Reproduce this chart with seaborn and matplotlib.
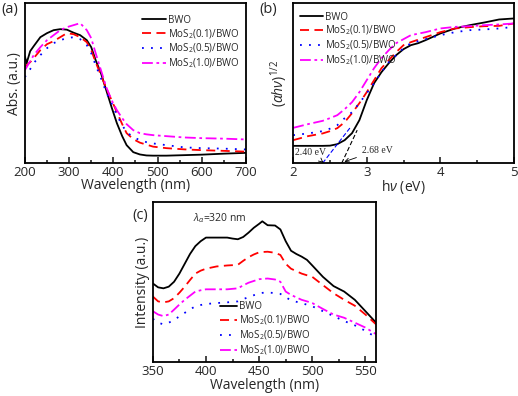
import matplotlib
matplotlib.use('Agg')
import matplotlib.pyplot as plt
from matplotlib.ticker import MultipleLocator
import seaborn as sns
import pandas as pd

# sample names and styles
SAMPLES = ['BWO', 'MoS2(0.1)/BWO', 'MoS2(0.5)/BWO', 'MoS2(1.0)/BWO']
LABELS = ['BWO', r'MoS$_2$(0.1)/BWO', r'MoS$_2$(0.5)/BWO', r'MoS$_2$(1.0)/BWO']
COLORS = ['black', '#ff0000', '#0000ff', '#ff00ff']
DASHES = ['', (5, 3), (1, 4), (6, 2, 1.5, 2)]

# (a) UV-vis absorbance
wl_a = [200, 204, 212, 220, 235, 250, 265, 280, 295, 310, 325, 340, 350, 360,
        372, 384, 396, 408, 420, 430, 445, 460, 475, 490, 520, 560, 600, 650, 700]
abs_bwo = [107, 100, 112, 117, 126, 130, 133, 134, 133.5, 130.5, 128, 123, 116,
           103, 90, 73, 56, 40, 27, 18, 11, 8.7, 7.7, 7.5, 7.5, 8, 8.5, 9.5, 10.3]
abs_01 = [96, 98, 101, 105, 113, 119, 122, 126, 130, 129, 126, 121, 113, 101,
          88, 75, 63, 51, 39, 30, 24, 20.5, 18.5, 16.5, 15, 13.8, 13, 12.3, 11.5]
abs_05 = [86, 89, 94, 100, 108, 115, 120, 123, 125, 126, 124, 118, 110, 98, 85,
          71, 60, 48, 38, 31, 26, 23, 21, 19.7, 18, 15.8, 15, 14.5, 13.7]
abs_10 = [93, 96, 102, 108, 116, 123, 128, 133, 136, 138, 140, 133, 125, 110,
          93, 76, 63, 53, 45, 39, 33, 30, 28.8, 28, 27, 25.7, 25, 24.5, 23.7]

# (b) Tauc plot
ev_b = [2.0, 2.2, 2.4, 2.5, 2.6, 2.7, 2.8, 2.9, 3.0, 3.1, 3.2, 3.3, 3.4, 3.5,
        3.6, 3.7, 3.8, 4.0, 4.2, 4.4, 4.6, 4.8, 5.0]
tauc_bwo = [17.3, 17.3, 17.3, 17.5, 19, 23, 30, 43, 63, 80, 91, 100, 108, 114,
            118, 120, 123, 129.7, 134.7, 138, 140.7, 143.7, 144.7]
tauc_01 = [23, 27, 29.7, 32, 35, 41, 50, 60, 71, 83, 95, 103, 111, 118, 121,
           123.5, 126, 131, 134.7, 136, 137, 137.3, 139.7]
tauc_05 = [28, 29.7, 32, 34.5, 38, 45, 51, 60, 70, 80, 91, 101, 108, 115, 120,
           122, 124, 128, 131, 133, 133.7, 134.7, 136.3]
tauc_10 = [35.3, 39, 42.3, 45, 48, 54, 61, 71, 83, 95, 105, 113, 120, 124, 128,
           129.5, 131, 134.7, 136.3, 137, 138, 138.7, 139.7]
# tangent lines for the band gap extrapolation
tan_bwo_x = [2.66, 2.87]
tan_bwo_y = [0, 33]
tan_05_x = [2.40, 2.78]
tan_05_y = [0, 36]

# (c) PL spectra
wl_c = [350, 355, 360, 365, 370, 375, 380, 385, 390, 395, 400, 410, 420, 425,
        430, 435, 440, 445, 450, 453, 458, 465, 470, 475, 480, 485, 490, 495,
        500, 510, 520, 530, 540, 550, 560]
pl_bwo = [80, 76, 75, 76.7, 81.7, 90, 100, 110, 118, 123, 126.7, 126.7, 126.7,
          125.7, 125, 127.3, 131.7, 136.7, 140.7, 143.3, 139.3, 139, 135, 123,
          113.3, 110, 107.3, 104, 98.3, 86.7, 77.3, 71.7, 63.3, 51.7, 40]
pl_01 = [66.7, 61.7, 60.7, 61.7, 65, 70.5, 76.7, 83.5, 90, 93, 95, 97.3, 98.3,
         98.6, 99, 103, 106.7, 109.5, 111.7, 112, 112.3, 111.2, 109, 100, 95,
         92.5, 90, 88.3, 86.7, 78.3, 70, 63.3, 57.3, 48.3, 38.3]
pl_05 = [44, 40, 38.3, 40, 42.7, 46.5, 50, 53.5, 56.7, 58, 59, 60, 60.7, 61.2,
         61.7, 64, 66, 68, 70, 70.4, 70.7, 70.2, 69.3, 66, 62.7, 61.3, 60, 58.3,
         56.7, 51.7, 46.7, 41.7, 37.3, 31.7, 25]
pl_10 = [51.7, 48.3, 46.7, 48.3, 53.3, 58.5, 63.3, 67.5, 71.7, 73, 74, 74, 74,
         74.5, 75, 78, 80.7, 82.5, 84.3, 84.6, 85, 84, 81.7, 71.7, 68.3, 65.8,
         63.3, 61.7, 60, 54, 48.3, 45, 40, 35, 28.3]

plt.rcParams['mathtext.fontset'] = 'custom'
sns.set_style('ticks')
plt.rcParams['font.family'] = ['Open Sans', 'DejaVu Sans']
plt.rcParams['mathtext.rm'] = 'Open Sans'
plt.rcParams['mathtext.it'] = 'Open Sans:italic'


def long_df(x, series):
    frames = []
    for name, ys in zip(SAMPLES, series):
        frames.append(pd.DataFrame({'x': x, 'y': ys, 'sample': name}))
    return pd.concat(frames, ignore_index=True)


def draw(ax, df):
    sns.lineplot(data=df, x='x', y='y', hue='sample', style='sample',
                 hue_order=SAMPLES, style_order=SAMPLES,
                 palette=dict(zip(SAMPLES, COLORS)),
                 dashes=dict(zip(SAMPLES, DASHES)),
                 estimator=None, sort=False, linewidth=1.3, legend=False, ax=ax)
    return ax.get_lines()[:4]


def style_axes(ax, major, minor):
    ax.set_yticks([])
    ax.xaxis.set_major_locator(MultipleLocator(major))
    ax.xaxis.set_minor_locator(MultipleLocator(minor))
    ax.tick_params(axis='x', which='both', direction='in', labelsize=9.5,
                   width=1.2, pad=2)
    ax.tick_params(axis='x', which='major', length=4)
    ax.tick_params(axis='x', which='minor', length=2.5)
    for sp in ax.spines.values():
        sp.set_visible(True)
        sp.set_linewidth(1.3)
        sp.set_color('black')


fig = plt.figure(figsize=(5.18, 3.96), dpi=100)
ax1 = fig.add_axes([0.048, 0.588, 0.427, 0.404])
ax2 = fig.add_axes([0.566, 0.588, 0.426, 0.404])
ax3 = fig.add_axes([0.295, 0.086, 0.431, 0.404])

leg_kw = dict(frameon=False, fontsize=7, handlelength=2.4, handletextpad=0.2,
              labelspacing=0.12, borderpad=0.2)

# panel (a)
lines = draw(ax1, long_df(wl_a, [abs_bwo, abs_01, abs_05, abs_10]))
ax1.set_xlim(200, 700)
ax1.set_ylim(0, 160)
style_axes(ax1, 100, 50)
ax1.set_xlabel('Wavelength (nm)', fontsize=10, labelpad=-1)
ax1.set_ylabel('Abs. (a.u.)', fontsize=10, labelpad=2)
ax1.legend(lines, LABELS, loc='upper right', bbox_to_anchor=(1.0, 0.97), **leg_kw)

# panel (b)
lines = draw(ax2, long_df(ev_b, [tauc_bwo, tauc_01, tauc_05, tauc_10]))
ax2.plot(tan_bwo_x, tan_bwo_y, color='black', lw=0.8, ls=(0, (4, 2)))
ax2.plot(tan_05_x, tan_05_y, color='#0000ff', lw=0.8, ls=(0, (4, 2)))
ax2.annotate('2.40 eV', xy=(2.41, 0.5), xytext=(2.03, 11), fontsize=7,
             family='Liberation Serif', va='center',
             arrowprops=dict(arrowstyle='->', lw=0.6, color='black'))
ax2.annotate('2.68 eV', xy=(2.66, 0.5), xytext=(2.94, 13), fontsize=7,
             family='Liberation Serif', va='center',
             arrowprops=dict(arrowstyle='->', lw=0.6, color='black'))
ax2.set_xlim(2, 5)
ax2.set_ylim(0, 160)
style_axes(ax2, 1, 0.5)
ax2.set_xlabel(r'h$\mathit{\nu}$ (eV)', fontsize=10, labelpad=-1)
ax2.set_ylabel(r'($\mathit{\alpha h\nu}$)$^{1/2}$', fontsize=10, labelpad=2)
ax2.legend(lines, LABELS, loc='upper left', bbox_to_anchor=(0.0, 0.99), **leg_kw)

# panel (c)
lines = draw(ax3, long_df(wl_c, [pl_bwo, pl_01, pl_05, pl_10]))
ax3.set_xlim(350, 560)
ax3.set_ylim(0, 163)
style_axes(ax3, 50, 25)
ax3.set_xlabel('Wavelength (nm)', fontsize=10, labelpad=0)
ax3.set_ylabel('Intensity (a.u.)', fontsize=10, labelpad=2)
ax3.text(0.18, 0.90, r'$\mathit{\lambda_{\alpha}}$=320 nm', transform=ax3.transAxes,
         fontsize=7.5, va='center')
leg_c = dict(leg_kw, handlelength=1.8)
ax3.legend(lines, LABELS, loc='lower left', bbox_to_anchor=(0.27, -0.01), **leg_c)

# panel letters
fig.text(0.002, 0.975, '(a)', fontsize=10.5, va='center')
fig.text(0.500, 0.975, '(b)', fontsize=10.5, va='center')
fig.text(0.255, 0.455, '(c)', fontsize=10.5, va='center')

fig.savefig('out.png', dpi=100)
